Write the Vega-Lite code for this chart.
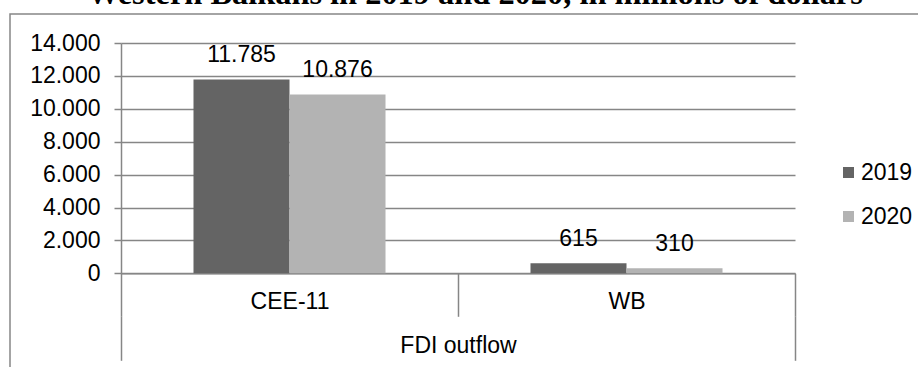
{
  "$schema": "https://vega.github.io/schema/vega-lite/v6.json",
  "width": 930,
  "height": 370,
  "autosize": {"type": "none"},
  "padding": {"left": 10, "top": 14, "right": -22, "bottom": -17},
  "background": "white",
  "config": {
    "locale": {"number": {"decimal": ",", "thousands": ".", "grouping": [3], "currency": ["", ""]}},
    "view": {"stroke": "#878787", "strokeWidth": 1.5},
    "font": "Liberation Sans"
  },
  "title": {
    "text": "Western Balkans in 2019 and 2020, in millions of dollars",
    "font": "Liberation Serif",
    "fontWeight": "bold",
    "fontSize": 32.4,
    "color": "black",
    "anchor": "middle",
    "baseline": "alphabetic",
    "offset": 0,
    "dy": 22,
    "dx": 0
  },
  "data": {
    "values": [
      {"region": "CEE-11", "year": "2019", "value": 11785, "flow": "FDI outflow"},
      {"region": "CEE-11", "year": "2020", "value": 10876, "flow": "FDI outflow"},
      {"region": "WB", "year": "2019", "value": 615, "flow": "FDI outflow"},
      {"region": "WB", "year": "2020", "value": 310, "flow": "FDI outflow"}
    ]
  },
  "layer": [
    {
      "layer": [
        {
          "mark": {"type": "bar"},
          "encoding": {
            "x": {
              "field": "region",
              "type": "nominal",
              "scale": {"range": [111, 785], "paddingInner": 0, "paddingOuter": 0},
              "axis": {
                "orient": "bottom",
                "offset": -110.7,
                "domainColor": "#868686",
                "domainWidth": 1.5,
                "tickBand": "extent",
                "tickSize": 43,
                "tickColor": "#868686",
                "tickWidth": 1.5,
                "labelFontSize": 23,
                "labelColor": "black",
                "labelAngle": 0,
                "labelBaseline": "middle",
                "labelPadding": -15,
                "title": null,
                "grid": false
              }
            },
            "xOffset": {"field": "year", "type": "nominal", "scale": {"paddingInner": 0, "paddingOuter": 0.755}},
            "y": {
              "field": "value",
              "type": "quantitative",
              "scale": {"domain": [0, 14000], "range": [259.3, 29], "nice": false},
              "axis": {
                "orient": "left",
                "offset": -111,
                "values": [0, 2000, 4000, 6000, 8000, 10000, 12000, 14000],
                "format": ",.0f",
                "grid": true,
                "gridColor": "#868686",
                "gridWidth": 1.5,
                "domainColor": "#868686",
                "domainWidth": 1.5,
                "tickColor": "#868686",
                "tickWidth": 1.5,
                "tickSize": 7,
                "labelFontSize": 23,
                "labelColor": "black",
                "labelPadding": 14,
                "title": null
              }
            },
            "color": {
              "field": "year",
              "type": "nominal",
              "scale": {"range": ["#646464", "#b3b3b3"]},
              "legend": {
                "orient": "none",
                "legendX": 827,
                "legendY": 147,
                "padding": 0,
                "title": null,
                "symbolType": "square",
                "symbolSize": 121,
                "symbolStrokeWidth": 0,
                "labelFontSize": 23,
                "labelColor": "black",
                "rowPadding": 20,
                "labelOffset": 1
              }
            }
          }
        },
        {
          "mark": {"type": "text", "baseline": "middle", "dy": -24, "fontSize": 23, "color": "black"},
          "encoding": {
            "x": {"field": "region", "type": "nominal"},
            "xOffset": {"field": "year", "type": "nominal"},
            "y": {"field": "value", "type": "quantitative"},
            "text": {"field": "value", "type": "quantitative", "format": ",.0f"}
          }
        }
      ]
    },
    {
      "mark": {"type": "rule", "opacity": 0},
      "encoding": {
        "x": {
          "field": "flow",
          "type": "nominal",
          "scale": {"range": [111, 785], "paddingInner": 0, "paddingOuter": 0},
          "axis": {
            "orient": "bottom",
            "offset": -67.7,
            "domain": false,
            "tickBand": "extent",
            "tickSize": 44,
            "tickColor": "#868686",
            "tickWidth": 1.5,
            "labelFontSize": 23,
            "labelColor": "black",
            "labelAngle": 0,
            "labelBaseline": "middle",
            "labelPadding": -15,
            "title": null,
            "grid": false
          }
        }
      }
    }
  ],
  "resolve": {"scale": {"x": "independent"}, "axis": {"x": "independent"}}
}
